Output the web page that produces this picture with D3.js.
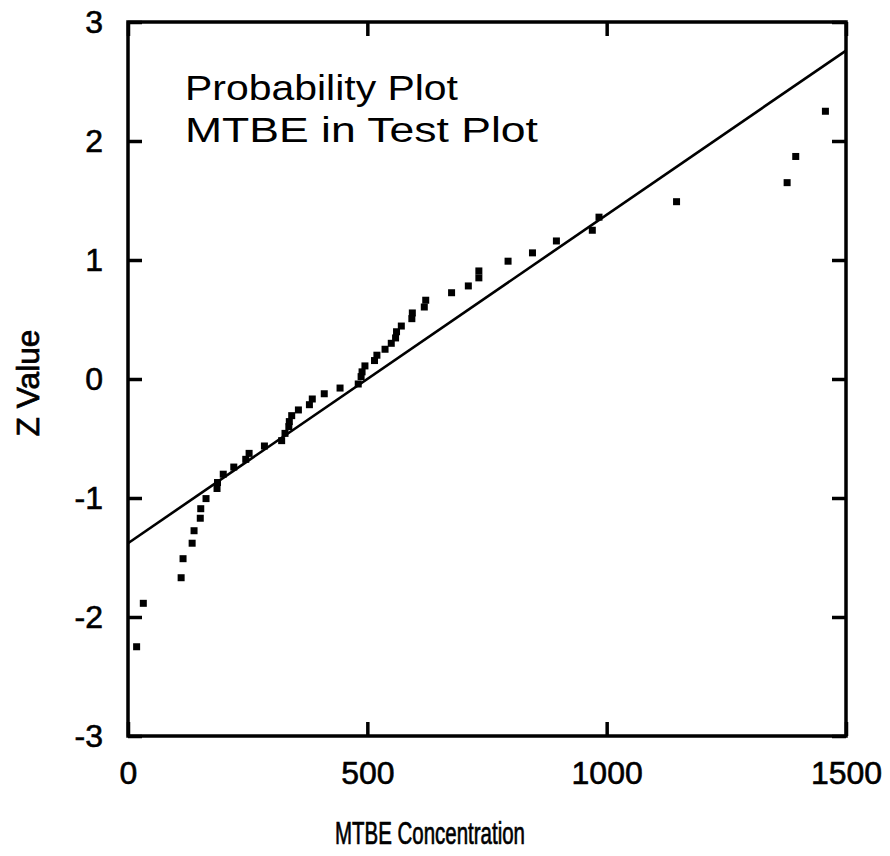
<!DOCTYPE html>
<html>
<head>
<meta charset="utf-8">
<script src="https://cdn.jsdelivr.net/npm/d3@7"></script>
<style>
  html, body { margin: 0; padding: 0; background: #fff; }
  svg { display: block; }
  text { font-family: "Liberation Sans", Arial, sans-serif; fill: #000; }
</style>
</head>
<body>
<svg id="chart" width="890" height="856"></svg>
<script>
// ---- data ----
const concentration = [18, 32, 111, 115, 134, 138, 151, 152, 163, 186, 187, 199,
  221, 246, 253, 285, 321, 328, 336, 337, 342, 356, 379, 385, 410, 443, 481,
  487, 489, 495, 515, 520, 537, 550, 559, 561, 571, 593, 594, 619, 622, 676,
  711, 733, 733, 794, 845, 895, 970, 984, 1146, 1377, 1395, 1457];
const zValue = [-2.25, -1.885, -1.67, -1.51, -1.38, -1.275, -1.17, -1.09, -1.005, -0.92, -0.87, -0.80,
  -0.74, -0.675, -0.625, -0.563, -0.518, -0.457, -0.40, -0.358, -0.308, -0.26, -0.216, -0.168, -0.124, -0.076, -0.042,
  0.02, 0.06, 0.11, 0.155, 0.20, 0.25, 0.30, 0.345, 0.397, 0.445, 0.507, 0.555, 0.605, 0.662, 0.725,
  0.782, 0.85, 0.908, 0.99, 1.06, 1.16, 1.25, 1.36, 1.49, 1.65, 1.87, 2.25];
const fitLineX = [0, 1500];
const fitLineZ = [-1.38, 2.76];
const xTicks = [0, 500, 1000, 1500];
const yTicks = [-3, -2, -1, 0, 1, 2, 3];
const titleLines = ["Probability Plot", "MTBE in Test Plot"];
const xTitle = "MTBE Concentration";
const yTitle = "Z Value";

// ---- layout ----
const mLeft = 128, mRight = 846, mTop = 22, mBottom = 736;
const svg = d3.select("#chart");
const x = d3.scaleLinear().domain([0, 1500]).range([mLeft, mRight]);
const y = d3.scaleLinear().domain([-3, 3]).range([mBottom, mTop]);

// fit line
svg.append("line")
  .attr("x1", x(fitLineX[0])).attr("y1", y(fitLineZ[0]))
  .attr("x2", x(fitLineX[1])).attr("y2", y(fitLineZ[1]))
  .attr("stroke", "#000").attr("stroke-width", 2.6);

// points
const pts = concentration.map((c, i) => ({ c, z: zValue[i] }));
const sq = 7;
svg.append("g").selectAll("rect").data(pts).join("rect")
  .attr("x", d => x(d.c) - sq / 2)
  .attr("y", d => y(d.z) - sq / 2)
  .attr("width", sq).attr("height", sq)
  .attr("fill", "#000");

// axes (inward ticks)
const tickLen = 14;
const fmt = d => String(d);
function styleAxis(g) {
  g.select(".domain").remove();
  g.selectAll(".tick line").attr("stroke", "#000").attr("stroke-width", 3.5);
  g.selectAll(".tick text")
    .style("font-family", '"Liberation Sans", Arial, sans-serif')
    .style("font-size", "32px").style("font-weight", "normal")
    .attr("fill", "#000").attr("stroke", "#000").attr("stroke-width", 0.6);
}
svg.append("g").attr("transform", `translate(0,${mBottom})`)
  .call(d3.axisBottom(x).tickValues(xTicks).tickFormat(fmt)
    .tickSizeInner(-tickLen).tickSizeOuter(0).tickPadding(25))
  .call(styleAxis);
svg.append("g").attr("transform", `translate(0,${mTop})`)
  .call(d3.axisTop(x).tickValues(xTicks).tickFormat("")
    .tickSizeInner(-tickLen).tickSizeOuter(0))
  .call(styleAxis);
svg.append("g").attr("transform", `translate(${mLeft},0)`)
  .call(d3.axisLeft(y).tickValues(yTicks).tickFormat(fmt)
    .tickSizeInner(-tickLen).tickSizeOuter(0).tickPadding(25))
  .call(styleAxis);
svg.append("g").attr("transform", `translate(${mRight},0)`)
  .call(d3.axisRight(y).tickValues(yTicks).tickFormat("")
    .tickSizeInner(-tickLen).tickSizeOuter(0))
  .call(styleAxis);

// frame
svg.append("rect")
  .attr("x", mLeft).attr("y", mTop)
  .attr("width", mRight - mLeft).attr("height", mBottom - mTop)
  .attr("fill", "none").attr("stroke", "#000").attr("stroke-width", 3.5);

// in-plot title
const titleLens = [273, 353];
svg.append("g").selectAll("text").data(titleLines).join("text")
  .attr("x", 185).attr("y", (d, i) => 100 + i * 42)
  .attr("textLength", (d, i) => titleLens[i])
  .attr("lengthAdjust", "spacingAndGlyphs")
  .style("font-size", "35px")
  .text(d => d);

// axis titles
svg.append("text")
  .attr("x", 430).attr("y", 844)
  .attr("text-anchor", "middle")
  .attr("textLength", 190).attr("lengthAdjust", "spacingAndGlyphs")
  .style("font-size", "31px").style("font-weight", "normal")
  .attr("stroke", "#000").attr("stroke-width", 0.7)
  .text(xTitle);
svg.append("text")
  .attr("transform", "translate(39,383) rotate(-90)")
  .attr("text-anchor", "middle")
  .attr("textLength", 107).attr("lengthAdjust", "spacingAndGlyphs")
  .style("font-size", "31px").style("font-weight", "normal")
  .attr("stroke", "#000").attr("stroke-width", 0.7)
  .text(yTitle);
</script>
</body>
</html>
